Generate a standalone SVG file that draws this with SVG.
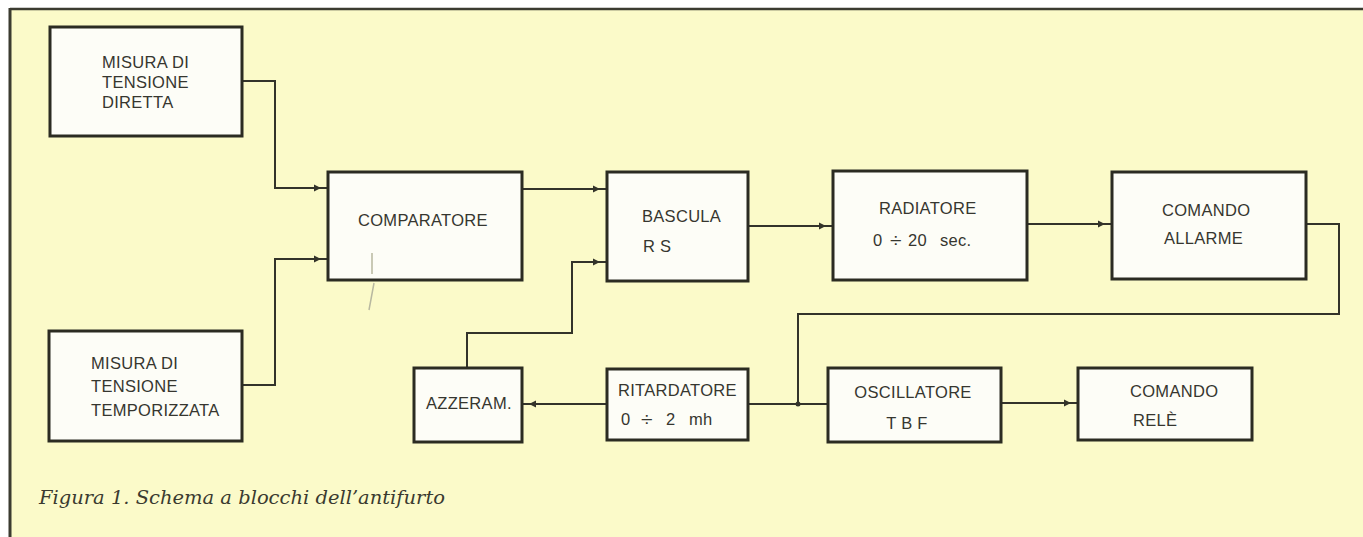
<svg xmlns="http://www.w3.org/2000/svg" xmlns:xlink="http://www.w3.org/1999/xlink" width="1363" height="537" viewBox="0 0 1363 537">
<style>
.box{fill:#fdfdf7;stroke:#2b2b22;stroke-width:3}
.lbl{font-family:"Liberation Sans",Arial,sans-serif;font-size:16.5px;letter-spacing:0.3px;fill:#36362f}
.mid{text-anchor:middle}
.div{font-size:21px}
.wire{fill:none;stroke:#33332a;stroke-width:2}
.ah{fill:#33332a}
.cap{font-family:"DejaVu Serif","Liberation Serif",serif;font-style:italic;font-size:18px;fill:#3a3a30}
</style>
<defs>
<path id="ah" d="M0,0 L-7,-3.5 L-7,3.5 Z"/>
</defs>
<rect x="0" y="0" width="1363" height="537" fill="#ffffff"/>
<rect x="10" y="9" width="1353" height="528" fill="#fbfac9"/>
<line x1="10" y1="9" x2="1363" y2="9" stroke="#3b3b30" stroke-width="2.5"/>
<line x1="10" y1="8" x2="10" y2="537" stroke="#3b3b30" stroke-width="3"/>

<g id="connectors">
<path class="wire" d="M242,81 H275 V188 H328"/>
<path class="wire" d="M242,385 H275 V259 H328"/>
<path class="wire" d="M522,189 H607"/>
<path class="wire" d="M467,368 V333 H572 V262 H607"/>
<path class="wire" d="M748,226 H833"/>
<path class="wire" d="M1027,224 H1112"/>
<path class="wire" d="M1306,224 H1339 V314 H798 V404"/>
<path class="wire" d="M607,404 H522"/>
<path class="wire" d="M748,404 H828"/>
<path class="wire" d="M1001,403 H1078"/>
<use xlink:href="#ah" href="#ah" class="ah" x="321" y="188"/>
<use xlink:href="#ah" href="#ah" class="ah" x="321" y="259"/>
<use xlink:href="#ah" href="#ah" class="ah" x="600" y="189"/>
<use xlink:href="#ah" href="#ah" class="ah" x="600" y="262"/>
<use xlink:href="#ah" href="#ah" class="ah" x="826" y="226"/>
<use xlink:href="#ah" href="#ah" class="ah" x="1105" y="224"/>
<use xlink:href="#ah" href="#ah" class="ah" x="1071" y="403"/>
<path class="ah" d="M529,404 L536,400.5 L536,407.5 Z"/>
<circle cx="798" cy="404" r="2.5" class="ah"/>
</g>

<g id="n_diretta">
<rect class="box" x="50" y="27" width="192" height="109"/>
<text class="lbl" x="102" y="68">MISURA DI</text>
<text class="lbl" x="102" y="88">TENSIONE</text>
<text class="lbl" x="102" y="108">DIRETTA</text>
</g>
<g id="n_temporizzata">
<rect class="box" x="49" y="331" width="193" height="110"/>
<text class="lbl" x="91" y="369">MISURA DI</text>
<text class="lbl" x="91" y="392">TENSIONE</text>
<text class="lbl" x="91" y="416">TEMPORIZZATA</text>
</g>
<g id="n_comparatore">
<rect class="box" x="328" y="172" width="194" height="108"/>
<text class="lbl" x="358" y="226">COMPARATORE</text>
</g>
<g id="n_bascula">
<rect class="box" x="607" y="172" width="141" height="109"/>
<text class="lbl" x="642" y="222">BASCULA</text>
<text class="lbl" x="643" y="252">R S</text>
</g>
<g id="n_radiatore">
<rect class="box" x="833" y="171" width="194" height="109"/>
<text class="lbl" x="879" y="214">RADIATORE</text>
<text class="lbl" y="246"><tspan x="873">0</tspan><tspan class="div" x="890" dy="1">÷</tspan><tspan x="908" dy="-1">20</tspan><tspan x="940">sec.</tspan></text>
</g>
<g id="n_allarme">
<rect class="box" x="1112" y="172" width="194" height="107"/>
<text class="lbl" x="1162" y="216">COMANDO</text>
<text class="lbl" x="1164" y="244">ALLARME</text>
</g>
<g id="n_azzeram">
<rect class="box" x="414" y="368" width="108" height="74"/>
<text class="lbl" x="426" y="409">AZZERAM.</text>
</g>
<g id="n_ritardatore">
<rect class="box" x="607" y="369" width="141" height="71"/>
<text class="lbl" x="618" y="396">RITARDATORE</text>
<text class="lbl" y="425"><tspan x="621">0</tspan><tspan class="div" x="641" dy="1">÷</tspan><tspan x="666" dy="-1">2</tspan><tspan x="689">mh</tspan></text>
</g>
<g id="n_oscillatore">
<rect class="box" x="828" y="368" width="173" height="74"/>
<text class="lbl mid" x="913" y="398">OSCILLATORE</text>
<text class="lbl mid" x="907" y="429">T B F</text>
</g>
<g id="n_rele">
<rect class="box" x="1078" y="368" width="174" height="72"/>
<text class="lbl" x="1130" y="397">COMANDO</text>
<text class="lbl" x="1133" y="426">RELÈ</text>
</g>

<path d="M372,253 V274 M374,283 L369,310" stroke="#b8b8a0" stroke-width="1.5" fill="none"/>

<text class="cap" x="39" y="504" textLength="406" lengthAdjust="spacingAndGlyphs">Figura 1. Schema a blocchi dell’antifurto</text>
</svg>
